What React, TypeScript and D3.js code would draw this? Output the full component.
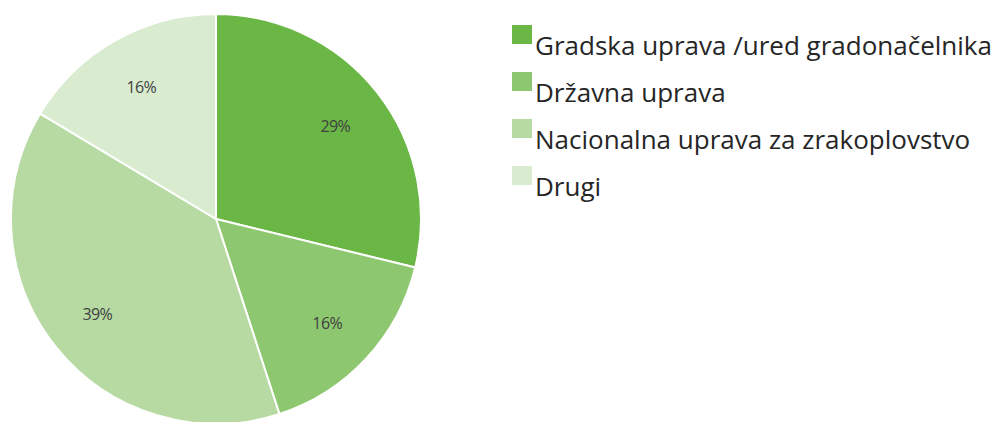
import { arc, pie, PieArcDatum } from 'd3';

const categories = [
  'Gradska uprava /ured gradonačelnika',
  'Državna uprava',
  'Nacionalna uprava za zrakoplovstvo',
  'Drugi',
];
const values = [28.8, 16.2, 38.6, 16.4];
const colors = ['#6bb745', '#8dc870', '#b6daa2', '#d9ecd0'];

type Slice = { label: string; value: number; color: string };

export default function App() {
  const width = 995;
  const height = 422;
  const cx = 216;
  const cy = 219;
  const radius = 205;

  const data: Slice[] = categories.map((label, i) => ({
    label,
    value: values[i],
    color: colors[i],
  }));
  const total = values.reduce((a, b) => a + b, 0);

  const slices = pie<Slice>()
    .value((d) => d.value)
    .sort(null)(data);

  const arcGen = arc<PieArcDatum<Slice>>().innerRadius(0).outerRadius(radius);
  const labelArc = arc<PieArcDatum<Slice>>()
    .innerRadius(radius * 0.74)
    .outerRadius(radius * 0.74);

  return (
    <svg
      width={width}
      height={height}
      style={{ position: 'absolute', left: 0, top: 0 }}>
      <rect width={width} height={height} fill='#ffffff' />
      <g transform={`translate(${cx}, ${cy})`}>
        {slices.map((s) => (
          <path
            key={s.data.label}
            d={arcGen(s) ?? ''}
            fill={s.data.color}
            stroke='#ffffff'
            strokeWidth={2}
          />
        ))}
        {slices.map((s) => {
          const [x, y] = labelArc.centroid(s);
          return (
            <text
              key={s.data.label}
              x={x}
              y={y}
              dy='0.4em'
              textAnchor='middle'
              fontFamily='Open Sans, sans-serif'
              fontSize={16}
              letterSpacing={-0.6}
              fill='#404040'>
              {Math.round((s.data.value / total) * 100)}%
            </text>
          );
        })}
      </g>
      <g transform='translate(512, 25)'>
        {data.map((d, i) => (
          <g key={d.label} transform={`translate(0, ${i * 47})`}>
            <rect width={20} height={19} fill={d.color} />
            <text
              x={23}
              y={30}
              fontFamily='Open Sans, sans-serif'
              fontSize={26}
              fill='#262626'>
              {d.label}
            </text>
          </g>
        ))}
      </g>
    </svg>
  );
}
